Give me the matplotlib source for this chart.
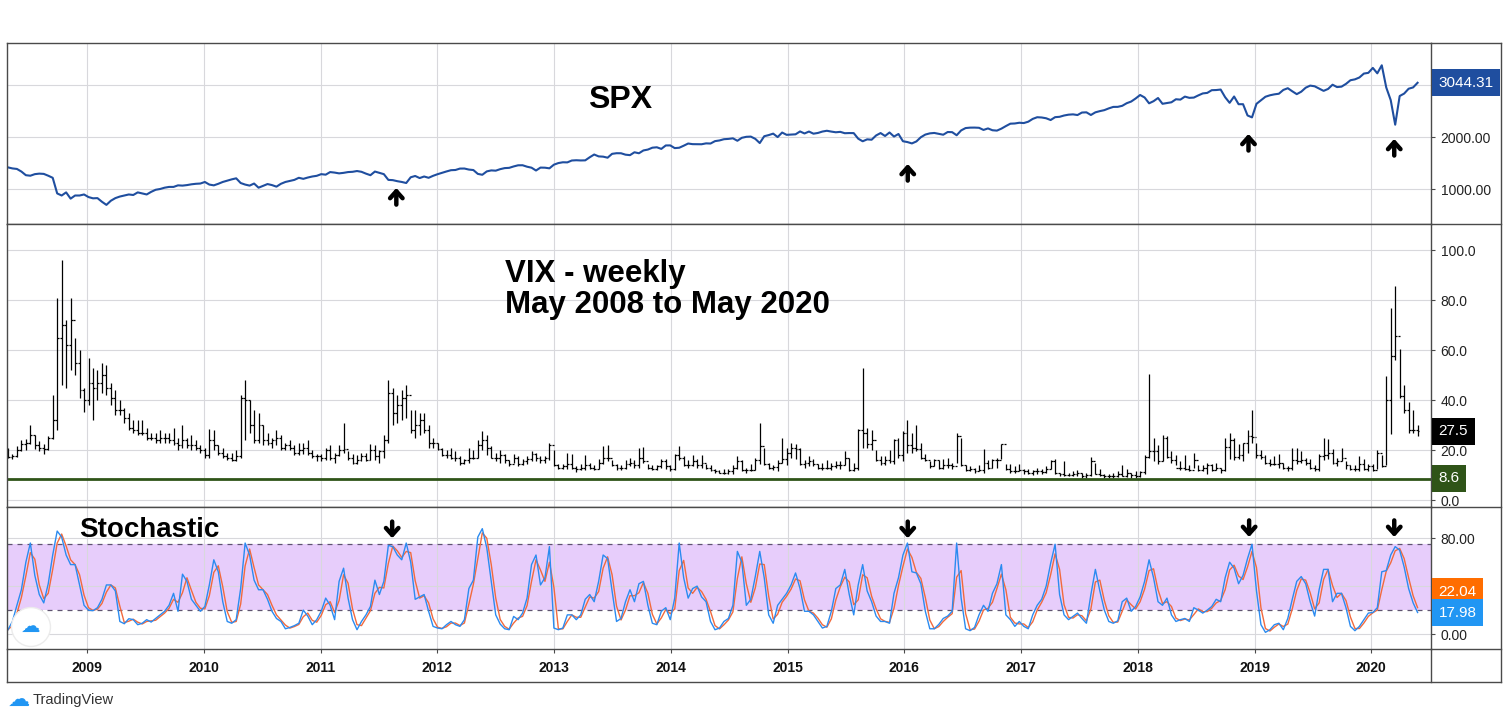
import matplotlib
matplotlib.use('Agg')
import matplotlib.pyplot as plt
import matplotlib.dates as mdates
from matplotlib.lines import Line2D
import pandas as pd

plt.rcParams['font.family'] = ['Liberation Sans', 'DejaVu Sans']

# two-week bars starting 28 Apr 2008 (one line per calendar year)
spx = (
    [1420, 1400, 1390, 1340, 1270, 1260, 1290, 1300, 1295, 1260, 1220, 920, 880, 940, 820, 880, 880, 900]
    + [850, 826, 830, 760, 700, 780, 830, 860, 880, 900, 890, 940, 920, 900, 950, 990, 1005, 1030, 1045, 1045, 1075, 1070, 1080, 1095, 1105, 1110]
    + [1140, 1090, 1075, 1105, 1140, 1165, 1190, 1210, 1120, 1090, 1070, 1110, 1030, 1065, 1100, 1080, 1050, 1105, 1140, 1160, 1180, 1220, 1200, 1225, 1245, 1258]
    + [1290, 1280, 1330, 1320, 1305, 1315, 1330, 1335, 1350, 1335, 1300, 1270, 1340, 1315, 1290, 1180, 1175, 1155, 1140, 1120, 1230, 1255, 1215, 1245, 1220, 1258]
    + [1289, 1316, 1342, 1366, 1370, 1397, 1398, 1378, 1369, 1295, 1278, 1343, 1362, 1357, 1386, 1406, 1411, 1438, 1460, 1461, 1433, 1414, 1360, 1416, 1414, 1402, 1472]
    + [1503, 1518, 1516, 1552, 1557, 1553, 1555, 1614, 1667, 1631, 1626, 1606, 1680, 1692, 1691, 1664, 1655, 1710, 1691, 1745, 1762, 1798, 1806, 1775, 1841, 1842]
    + [1790, 1797, 1836, 1878, 1866, 1865, 1864, 1881, 1878, 1924, 1937, 1961, 1967, 1978, 1931, 1988, 2007, 2011, 1968, 1887, 2018, 2040, 2068, 2002, 2089, 2045]
    + [2051, 2055, 2110, 2071, 2108, 2067, 2081, 2108, 2123, 2107, 2094, 2102, 2076, 2079, 2078, 1971, 1921, 1958, 1951, 2033, 2079, 2023, 2090, 2012, 2061, 1922]
    + [1906, 1880, 1918, 1999, 2050, 2073, 2081, 2065, 2047, 2099, 2096, 2037, 2130, 2175, 2183, 2184, 2180, 2139, 2168, 2133, 2126, 2164, 2213, 2259, 2263, 2277]
    + [2271, 2297, 2351, 2383, 2378, 2363, 2329, 2384, 2391, 2416, 2432, 2438, 2425, 2473, 2477, 2426, 2477, 2500, 2519, 2553, 2581, 2582, 2602, 2652, 2684, 2743]
    + [2810, 2762, 2650, 2691, 2752, 2641, 2656, 2670, 2728, 2721, 2779, 2755, 2760, 2802, 2840, 2850, 2902, 2905, 2914, 2767, 2659, 2781, 2633, 2633, 2417, 2380]
    + [2640, 2707, 2776, 2804, 2822, 2834, 2907, 2940, 2881, 2826, 2873, 2950, 2990, 2977, 2932, 2889, 2926, 3007, 2962, 2970, 3023, 3093, 3110, 3146, 3221, 3235]
    + [3330, 3226, 3380, 2954, 2711, 2240, 2790, 2837, 2930, 2955, 3044.31]
)

vix_high = (
    [20.8, 18.5, 21.5, 24.0, 24.5, 30.0, 26.0, 23.5, 22.5, 25.5, 42.0, 81.0, 96.0, 72.0, 81.0, 65.0, 60.0, 45.0]
    + [57, 53, 52, 55, 54, 47, 44, 40, 37, 35, 32, 32, 32, 29, 27, 27, 28, 27, 27, 29, 25, 30, 25, 26, 24, 22]
    + [21, 28.5, 28, 22, 21, 19, 19, 20, 42, 48, 40, 36, 35, 30, 27, 25, 28, 26, 23, 24, 22, 23, 23, 24, 20, 18.5]
    + [18.5, 21, 22, 19, 22, 31, 19.5, 18.5, 18, 19, 19, 22.5, 22, 20, 26, 48, 45, 42, 44, 46, 36, 36, 35, 35, 30, 25]
    + [23, 21, 20, 21, 19.5, 17.5, 16.5, 21, 20, 24, 27.7, 26, 21.5, 19, 20, 18.5, 16, 18.5, 17.5, 16.5, 17.5, 19.5, 19, 17.5, 17.5, 22.7, 20]
    + [14.5, 14.5, 19, 18.5, 13.5, 14.5, 18, 15, 14, 16.5, 21.5, 21.9, 16, 14.5, 14, 16, 17, 16, 21, 21.3, 14.5, 14, 14, 16.5, 16.5, 14]
    + [18.5, 21.5, 17.5, 16, 18, 16.5, 18, 14.5, 14, 12.5, 12, 12.5, 12.5, 14, 17.6, 16, 13, 14.5, 17, 31, 21, 15, 14, 16, 25, 21]
    + [23, 22.5, 21, 16, 17.5, 16.5, 14.5, 15, 16, 15, 15.5, 15.5, 19.5, 17, 15, 28.4, 53, 29, 28, 20, 17.5, 17.5, 20, 24.5, 25, 27.5]
    + [32, 27, 30, 23, 18.5, 15.5, 16.5, 16, 16.5, 17, 15, 26.7, 25, 14, 13.5, 13, 14, 20.5, 16, 16.5, 17, 22.5, 14.5, 14.5, 13.5, 14.5]
    + [12.5, 12.5, 12, 13, 12.5, 13.5, 16, 16.3, 11, 15.5, 11, 11.5, 12, 11, 11, 17.3, 15, 12.5, 10.5, 10.5, 11, 11.5, 14, 12.5, 11, 11.5]
    + [11.5, 17.9, 50.3, 25, 22, 26, 25.6, 19.5, 18, 15.5, 18, 14, 19, 14, 14, 15, 14.5, 15, 13, 25, 27, 25, 22.5, 23, 28, 36.2]
    + [23, 20, 18, 16.5, 17.5, 18.5, 15, 13.5, 21, 21, 19.5, 17, 16.5, 14, 18.5, 25, 24.5, 20.5, 17, 21, 15.5, 14, 14, 17.5, 16.5, 14.5]
    + [14.5, 20, 18, 49.5, 76.8, 85.5, 60.6, 46, 39.3, 36.2, 30]
)

vix_low = (
    [17.0, 16.3, 17.2, 19.5, 20.0, 22.5, 20.5, 19.5, 18.5, 20.0, 24.5, 28.0, 46.0, 45.0, 52.0, 50.0, 41.0, 35.3]
    + [38, 32, 40, 43, 42, 38, 34, 34, 31, 28, 27, 26, 26, 24, 24, 23, 23, 23, 23, 22, 20, 21, 21, 20, 20, 19]
    + [17, 17, 20, 18, 17, 16, 15.5, 15.5, 17, 24, 27, 23, 23, 22, 22, 21, 22, 20, 20, 20, 18, 18, 18.5, 18, 17, 15.5]
    + [15.5, 16, 16, 15, 17.5, 19, 16, 14.5, 14.5, 15.5, 15.5, 16, 16, 15, 17, 23, 30, 31, 32, 33, 27, 25, 26, 27, 21, 21]
    + [20, 17.5, 17, 16.5, 15.5, 14, 14.5, 15, 16.5, 17, 20, 18, 17, 15.5, 15, 15, 13.5, 15, 13.5, 14, 14.5, 15.5, 15.5, 15, 15, 16, 13.5]
    + [12.3, 12.5, 12.5, 12.5, 11.3, 12, 12, 12.5, 12, 12.5, 14.5, 15.5, 13.5, 12, 12, 12.5, 13.5, 13, 13, 15, 12.5, 12, 12, 13, 12.5, 11.5]
    + [12, 16, 13.5, 13, 13.5, 13, 13, 12.5, 11.5, 10.9, 10.7, 10.3, 10.3, 10.5, 12.5, 11.5, 11, 11.5, 12, 14.5, 14, 12.5, 12, 11.5, 15, 14]
    + [17, 16.5, 14, 13, 13.5, 13.5, 12.5, 12, 12.5, 12, 13, 12.5, 14, 11.5, 11.8, 12, 21, 21, 20, 15.5, 14, 14, 15, 14.5, 17, 15.5]
    + [19, 19, 19.5, 16.5, 15.5, 13, 13.5, 12.5, 12.5, 13, 12.5, 15, 13.5, 11.5, 11.5, 11, 11.5, 11, 12.5, 13, 13, 16.5, 12, 11, 11, 11.5]
    + [10.5, 10.5, 10, 10.5, 10.5, 11, 12.5, 10.5, 9.5, 9.5, 9.5, 9.5, 9.8, 9, 8.8, 9.5, 10.5, 9.5, 9, 9, 9, 9.2, 9.5, 9.3, 9, 9]
    + [9.1, 10.5, 17, 15.5, 14.5, 15.5, 17, 15, 14, 12, 12, 11.5, 13, 11.5, 11.5, 10.5, 11.5, 12, 11, 11.5, 16.5, 16, 16.5, 15.5, 19, 23]
    + [17, 16.5, 14.5, 13.5, 14, 12.8, 12.5, 11.5, 12, 14.5, 15, 14, 12.5, 11.7, 11.5, 16, 16.5, 14.5, 13.5, 15.5, 12.5, 12, 11.5, 11.5, 12, 11.5]
    + [11.8, 12.5, 13.4, 14, 26.4, 56, 41, 35, 26.8, 26.9, 25.5]
)

vix_close = (
    [17.2, 17.8, 20.0, 22.5, 23.0, 26.0, 22.0, 21.0, 20.5, 25.0, 32.0, 65.0, 70.0, 62.0, 72.0, 55.0, 44.0, 40.0]
    + [47, 45, 47, 50, 45, 41, 36, 36, 33, 29, 28, 27, 27, 25, 25, 24, 25, 25, 24, 23, 22, 24, 22, 22, 21, 20]
    + [18, 24, 22, 19, 17.5, 17, 16, 17.5, 41, 40, 30, 24, 30, 24, 23, 24, 25, 21, 22, 21, 19, 20, 21, 19, 17.5, 17.8]
    + [17, 20, 17, 18, 20, 20.5, 17, 15, 16, 17.5, 16, 20, 17.5, 19.5, 24, 43, 35, 38, 41, 42, 28, 30, 32, 28, 23, 23]
    + [20.5, 18, 18, 17, 17, 15, 16, 17, 17, 22, 24, 21, 17, 17, 18, 16, 14.5, 17, 14.5, 15.5, 16.5, 18.5, 17, 16, 17, 22, 14]
    + [13, 13.5, 14.5, 13, 12.5, 13, 14, 13, 12.5, 15, 17, 17, 14, 13, 13, 14.5, 15, 14, 17, 15.5, 13, 12.5, 13.5, 15.5, 13.5, 12.5]
    + [18, 17, 14, 14, 15.5, 14, 15, 13, 12, 11.5, 11, 11, 11.5, 13, 15.5, 12, 12, 12, 16, 21.5, 14.5, 13, 13.3, 15, 16.5, 19]
    + [21, 20.5, 14.5, 15, 15.5, 14.5, 13, 13, 13, 13.8, 14, 14, 17, 12, 13, 28, 27, 22.5, 24, 16, 15, 16, 15.5, 24, 18, 27]
    + [22, 21, 20.5, 16.9, 16, 13.5, 16, 13, 14, 14, 13.5, 25.8, 14, 12, 12.5, 11.5, 12, 15, 13, 16, 16, 22.5, 12.5, 11.5, 11.5, 12]
    + [11.5, 11, 11.5, 11.5, 11.3, 12.5, 15.5, 10.8, 10.4, 10, 10, 10.5, 11, 9.5, 10, 15.5, 10.5, 10, 9.5, 9.6, 9.8, 10.5, 9.7, 11, 10, 9.5]
    + [11.3, 17.3, 19.5, 19.5, 15.8, 24.9, 17.4, 16, 13, 13, 12.5, 12, 16, 12, 13, 14, 12, 13, 12, 21.3, 24, 17.4, 18, 23, 25.5, 25.4]
    + [18, 17.4, 15, 14.6, 14.3, 15, 12.8, 13, 16, 15.8, 16, 15, 13, 12.5, 17.6, 18, 19, 15, 15.5, 17, 14, 12.5, 12.3, 14.5, 12.5, 13.8]
    + [12.1, 18.8, 13.7, 40.1, 57.8, 65.5, 41.7, 36, 27.9, 28.2, 27.5]
)

stoch_k = (
    [3.6, 10.5, 24, 37, 60, 76, 49, 33, 26, 42, 66, 86, 81, 66, 58, 58, 41, 24]
    + [20, 19.5, 22, 29, 41, 41, 36, 10.5, 8.6, 12.8, 12, 7.8, 9, 12, 10, 13, 16, 19, 24, 34, 19, 50, 44, 29, 24, 19]
    + [23, 41, 62, 52, 27, 10.5, 9, 12, 38, 76, 66, 45, 37, 37, 29, 19, 13, 10.5, 4.4, 5.5, 7, 9, 20, 15, 7.8, 12]
    + [19, 30, 24, 12, 44, 55, 30, 12, 3.6, 10.5, 16, 23, 45, 33, 44, 74, 73, 66, 62, 76, 60, 29, 31, 33, 19, 6.4]
    + [5, 4.4, 7.8, 10.5, 7.8, 6.4, 12, 38, 45, 81, 88, 72, 44, 16, 8.3, 4.4, 3.6, 14.7, 12, 17.5, 30, 58, 66, 41, 47, 73, 5]
    + [3.6, 5, 16, 16, 12, 16, 29, 33, 27, 44, 66, 63, 36, 10.5, 13, 27, 37, 27, 42, 44, 24, 9, 7.8, 19, 22, 12]
    + [30, 76, 47, 30, 38, 40, 31, 27, 10.5, 3.6, 5, 10.5, 13, 24, 69, 60, 24, 29, 48, 69, 47, 16, 9, 24, 29, 34]
    + [41, 51, 38, 19, 19, 16, 10.5, 5, 6.4, 19, 38, 41, 54, 33, 16, 41, 58, 36, 27, 15, 10.5, 10.5, 9, 34, 47, 66]
    + [76, 52, 51, 42, 19, 4.4, 4.4, 8, 13, 15, 19, 76, 30, 4.4, 2.8, 5.5, 16, 24, 19, 34, 42, 58, 16, 12, 6.4, 10.5]
    + [6.4, 4.4, 16, 24, 29, 40, 59, 75, 33, 16, 12, 14.7, 17.5, 13, 9, 33, 54, 36, 20, 10.5, 9, 11, 27, 30, 19, 23]
    + [31, 44, 62, 47, 27, 24, 30, 16, 10.5, 12, 13, 10.5, 22, 20, 17.5, 20, 23, 29, 27, 47, 60, 55, 42, 49, 63, 75]
    + [36, 7.8, 1.4, 3.6, 7.8, 9, 3.6, 13, 29, 44, 48, 42, 27, 15, 37, 54, 54, 27, 34, 34, 22, 6.4, 2.8, 6.4, 12, 17.5]
    + [18, 22, 52, 53, 66, 73, 70, 56, 38, 26.1, 17.98]
)

support = 8.6
years = list(range(2009, 2021))
up_arrows = [('2011-08-26', 1025), ('2016-01-12', 1486), ('2018-12-13', 2063), ('2020-03-13', 1967)]
down_arrows = [('2011-08-13', 80), ('2016-01-12', 80), ('2018-12-15', 81), ('2020-03-13', 81)]

dates = pd.date_range('2008-04-28', periods=len(vix_close), freq='14D')
x = mdates.date2num(dates)
vix_open = [vix_close[0]] + vix_close[:-1]
stoch_d = [stoch_k[0]] + [(a + b) / 2 for a, b in zip(stoch_k[:-1], stoch_k[1:])]

W, H = 1508, 719
fig = plt.figure(figsize=(W / 100, H / 100), dpi=100)


def rect(l, t, r, b):
    return [l / W, 1 - b / H, (r - l) / W, (b - t) / H]


ax1 = fig.add_axes(rect(7, 43, 1431, 224))
ax2 = fig.add_axes(rect(7, 224, 1431, 507), sharex=ax1)
ax3 = fig.add_axes(rect(7, 507, 1431, 649), sharex=ax1)

frame = '#4a4a4a'
for ax in (ax1, ax2, ax3):
    ax.set_axisbelow(True)
    ax.grid(True, color='#d8d8dc', lw=0.8)
    for s in ax.spines.values():
        s.set_color(frame)
        s.set_linewidth(1.0)
    ax.yaxis.tick_right()
    ax.tick_params(axis='y', direction='out', length=3, width=0.8, color=frame,
                   pad=4, labelsize=10, labelcolor='#222222')
    ax.tick_params(axis='x', length=0, labelbottom=False)

ax1.set_xlim(mdates.date2num(pd.Timestamp('2008-04-25')), mdates.date2num(pd.Timestamp('2020-07-06')))
ax3.set_xticks([mdates.date2num(pd.Timestamp(f'{y}-01-01')) for y in years])
ax3.set_xticklabels([str(y) for y in years], fontweight='bold', fontsize=10, color='#111111')
ax3.tick_params(axis='x', length=3, width=0.8, color=frame, pad=6, labelbottom=True)

# SPX
ax1.plot(x, spx, color='#1f4e9f', lw=1.5)
ax1.set_ylim(333, 3808)
ax1.set_yticks([1000, 2000, 3000])
ax1.set_yticklabels(['1000.00', '2000.00', ''])

# VIX OHLC bars
ax2.vlines(x, vix_low, vix_high, color='black', lw=0.9)
ax2.hlines(vix_open, x - 6, x, color='black', lw=0.9)
ax2.hlines(vix_close, x, x + 6, color='black', lw=0.9)
ax2.axhline(support, color='#2f5418', lw=2.0)
ax2.set_ylim(-2.8, 110.4)
ax2.set_yticks(range(0, 101, 20))
ax2.set_yticklabels([f'{v:.1f}' for v in range(0, 101, 20)])

# Stochastic
ax3.axhspan(20, 75, color='#e7cdfb', lw=0, zorder=0.2)
for lvl in (20, 75):
    ax3.axhline(lvl, color='#5f5470', lw=0.9, ls=(0, (4, 4)))
ax3.plot(x, stoch_d, color='#f26a3d', lw=1.0)
ax3.plot(x, stoch_k, color='#2b8bf0', lw=1.0)
ax3.set_ylim(-12.5, 106.1)
ax3.set_yticks([0, 40, 80])
ax3.set_yticklabels(['0.00', '', '80.00'])


def tag(ax, val, text, color, dy=0):
    ax.annotate(text, xy=(1, val), xycoords=('axes fraction', 'data'), xytext=(5.5, dy),
                textcoords='offset points', ha='left', va='center', fontsize=11, color='white',
                bbox=dict(boxstyle='square,pad=0.42', fc=color, ec='none'),
                annotation_clip=False, zorder=10)


tag(ax1, spx[-1], f'{spx[-1]:.2f}', '#1f4e9f')
tag(ax2, vix_close[-1], f'{vix_close[-1]:.1f}', 'black')
tag(ax2, support, f'{support}', '#2f5418')
tag(ax3, stoch_d[-1], f'{stoch_d[-1]:.2f}', '#ff6d00', dy=11.5)
tag(ax3, stoch_k[-1], f'{stoch_k[-1]:.2f}', '#2196f3')


def arrow(ax, day, val, off):
    ax.annotate('', xy=(mdates.date2num(pd.Timestamp(day)), val), xytext=(0, off),
                textcoords='offset points', annotation_clip=False,
                arrowprops=dict(arrowstyle='->,head_length=0.5,head_width=0.45', lw=3.2,
                                color='black', shrinkA=0, shrinkB=0))


for day, val in up_arrows:
    arrow(ax1, day, val, -12)
for day, val in down_arrows:
    arrow(ax3, day, val, 12)

# titles drawn on the chart
fig.text(588 / W, 1 - 108 / H, 'SPX', fontsize=23, fontweight='bold')
fig.text(505 / W, 1 - 282 / H, 'VIX - weekly', fontsize=22.5, fontweight='bold')
fig.text(505 / W, 1 - 313 / H, 'May 2008 to May 2020', fontsize=22.5, fontweight='bold')
fig.text(79 / W, 1 - 537 / H, 'Stochastic', fontsize=20, fontweight='bold')

# outer frame and price-scale column
def fline(x0, y0, x1, y1):
    fig.add_artist(Line2D([x0 / W, x1 / W], [1 - y0 / H, 1 - y1 / H],
                          transform=fig.transFigure, color=frame, lw=1.0))


fline(1431, 43, 1501, 43)
fline(1501, 43, 1501, 682)
fline(7, 682, 1501, 682)
fline(7, 649, 7, 682)
fline(1431, 649, 1431, 682)
for yy in (224, 507, 649):
    fline(1431, yy, 1501, yy)

# TradingView marks
fig.text(31 / W, 1 - 627 / H, '\u2601', color='#2196f3', fontsize=14, ha='center', va='center',
         bbox=dict(boxstyle='circle,pad=0.5', fc='white', ec='#ececec', lw=1))
fig.text(19 / W, 1 - 700 / H, '\u2601', color='#2196f3', fontsize=16, ha='center', va='center')
fig.text(33 / W, 1 - 700 / H, 'TradingView', fontsize=10.5, color='#333333', va='center')

fig.savefig('out.png', dpi=100)
